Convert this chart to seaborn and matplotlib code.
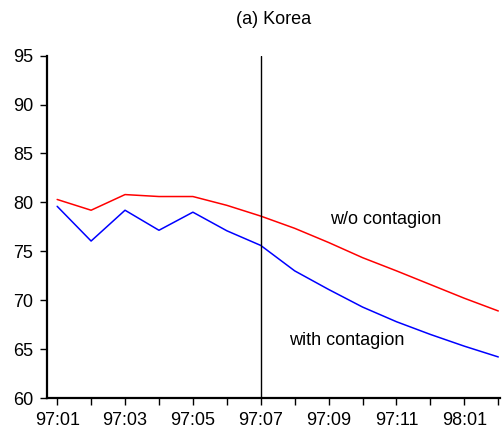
import matplotlib
matplotlib.use("Agg")
import matplotlib.pyplot as plt
import seaborn as sns
import pandas as pd

# Monthly periods, 1997:01 - 1998:02
months = ["97:01", "97:02", "97:03", "97:04", "97:05", "97:06", "97:07",
          "97:08", "97:09", "97:10", "97:11", "97:12", "98:01", "98:02"]
without_contagion = [80.3, 79.2, 80.8, 80.6, 80.6, 79.7, 78.6,
                     77.35, 75.9, 74.35, 73.0, 71.6, 70.2, 68.9]
with_contagion = [79.6, 76.05, 79.2, 77.15, 79.0, 77.1, 75.6,
                  73.0, 71.1, 69.3, 67.8, 66.5, 65.3, 64.2]
tick_labels = ["97:01", "97:03", "97:05", "97:07", "97:09", "97:11", "98:01"]
y_ticks = [60, 65, 70, 75, 80, 85, 90, 95]

sns.set_style("ticks")
plt.rcParams["font.family"] = ["Liberation Sans", "DejaVu Sans"]
plt.rcParams["text.color"] = "black"

df = pd.DataFrame({
    "t": list(range(len(months))) * 2,
    "value": without_contagion + with_contagion,
    "series": ["w/o contagion"] * len(months) + ["with contagion"] * len(months),
})

fig = plt.figure(figsize=(5.03, 4.34), dpi=100)
ax = fig.add_axes([0.0934, 0.0829, 0.9006, 0.7888])

sns.lineplot(data=df, x="t", y="value", hue="series",
             palette={"w/o contagion": "#ff0000", "with contagion": "#0000ff"},
             linewidth=1.1, legend=False, ax=ax)

# Break point at 97:07
ax.axvline(months.index("97:07"), color="black", linewidth=1.0)

ax.set_xlim(-0.3, 13.05)
ax.set_ylim(60, 95)
ax.set_xticks(range(len(months)))
ax.set_xticklabels([m if m in tick_labels else "" for m in months], fontsize=13)
ax.set_yticks(y_ticks)
ax.set_yticklabels([str(v) for v in y_ticks], fontsize=13)
ax.set_xlabel("")
ax.set_ylabel("")

for side in ["top", "right"]:
    ax.spines[side].set_visible(False)
for side in ["left", "bottom"]:
    ax.spines[side].set_linewidth(1.6)
    ax.spines[side].set_color("black")
ax.tick_params(axis="both", direction="out", length=5, width=1.0,
               colors="black", pad=5)

ax.text(9.68, 78.3, "w/o contagion", fontsize=13, color="black",
        ha="center", va="center")
ax.text(8.54, 65.85, "with contagion", fontsize=13, color="black",
        ha="center", va="center")

ax.set_title("(a) Korea", fontsize=13, color="black", pad=23)

fig.savefig("out.png", dpi=100)
